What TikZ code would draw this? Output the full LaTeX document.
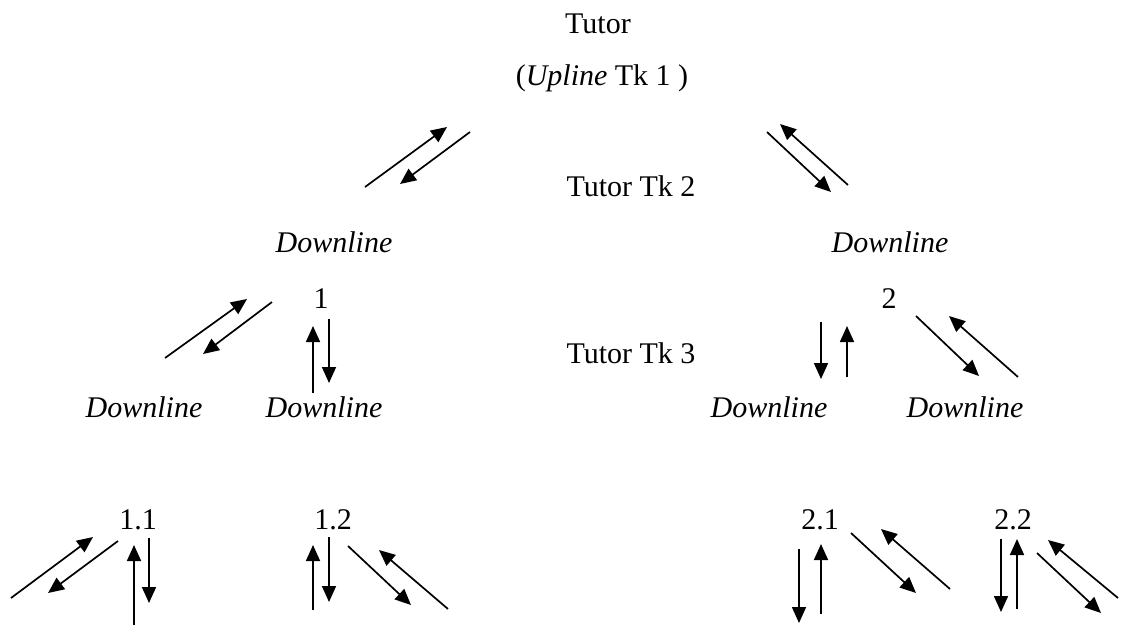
\documentclass[tikz,border=0pt]{standalone}
\usepackage{fontspec}
\setmainfont{Liberation Serif}
\usetikzlibrary{arrows.meta}
\begin{document}
\begin{tikzpicture}[x=1pt,y=-1pt,
  lbl/.style={anchor=base,inner sep=0pt,font=\fontsize{30}{36}\selectfont},
  arr/.style={line width=1.7pt,-{Triangle[length=16pt,width=14pt]}}]
\useasboundingbox (0,0) rectangle (1124,625);
% text
\node[lbl] (tutor) at (598,33) {Tutor};
\node[lbl] (upline) at (602,85) {(\textit{Upline} Tk 1 )};
\node[lbl] (tk2) at (631,196) {Tutor Tk 2};
\node[lbl] (dl) at (334,252) {\textit{Downline}};
\node[lbl] (dr) at (890,252) {\textit{Downline}};
\node[lbl] (n1) at (321,308) {1};
\node[lbl] (n2) at (889,308) {2};
\node[lbl] (tk3) at (631,363) {Tutor Tk 3};
\node[lbl] (d11) at (144,417) {\textit{Downline}};
\node[lbl] (d12) at (324,417) {\textit{Downline}};
\node[lbl] (d21) at (769,417) {\textit{Downline}};
\node[lbl] (d22) at (965,417) {\textit{Downline}};
\node[lbl] (n11) at (138,529) {1.1};
\node[lbl] (n12) at (333,529) {1.2};
\node[lbl] (n21) at (820,529) {2.1};
\node[lbl] (n22) at (1013,529) {2.2};
% arrow end points
\coordinate (a1s) at (365,187); \coordinate (a1e) at (447,127);
\coordinate (a2s) at (470,132); \coordinate (a2e) at (400,184);
\coordinate (a3s) at (848,185); \coordinate (a3e) at (780,124);
\coordinate (a4s) at (767,132); \coordinate (a4e) at (831,192);
\coordinate (b1s) at (165,358); \coordinate (b1e) at (247,299);
\coordinate (b2s) at (272,302); \coordinate (b2e) at (203,354);
\coordinate (b3s) at (313,393); \coordinate (b3e) at (313,326);
\coordinate (b4s) at (329,319); \coordinate (b4e) at (329,383);
\coordinate (b5s) at (821,322); \coordinate (b5e) at (821,379);
\coordinate (b6s) at (847,377); \coordinate (b6e) at (847,326);
\coordinate (b7s) at (916,316); \coordinate (b7e) at (979,376);
\coordinate (b8s) at (1018,377); \coordinate (b8e) at (949,316);
\coordinate (c1s) at (11,598); \coordinate (c1e) at (93,537);
\coordinate (c2s) at (118,541); \coordinate (c2e) at (48,593);
\coordinate (c3s) at (134,625); \coordinate (c3e) at (134,545);
\coordinate (c4s) at (149,538); \coordinate (c4e) at (149,603);
\coordinate (c5s) at (313,610); \coordinate (c5e) at (313,545);
\coordinate (c6s) at (329,537); \coordinate (c6e) at (329,602);
\coordinate (c7s) at (348,546); \coordinate (c7e) at (411,605);
\coordinate (c8s) at (448,609); \coordinate (c8e) at (379,550);
\coordinate (d1s) at (799,549); \coordinate (d1e) at (799,623);
\coordinate (d2s) at (821,614); \coordinate (d2e) at (821,544);
\coordinate (d3s) at (851,533); \coordinate (d3e) at (916,593);
\coordinate (d4s) at (950,589); \coordinate (d4e) at (881,529);
\coordinate (d5s) at (1001,539); \coordinate (d5e) at (1001,612);
\coordinate (d6s) at (1017,609); \coordinate (d6e) at (1017,539);
\coordinate (d7s) at (1037,553); \coordinate (d7e) at (1101,613);
\coordinate (d8s) at (1118,598); \coordinate (d8e) at (1048,540);
\foreach \p in {a1,a2,a3,a4,b1,b2,b3,b4,b5,b6,b7,b8,c1,c2,c3,c4,c5,c6,c7,c8,d1,d2,d3,d4,d5,d6,d7,d8}
  \draw[arr] (\p s) -- (\p e);
\end{tikzpicture}
\end{document}
